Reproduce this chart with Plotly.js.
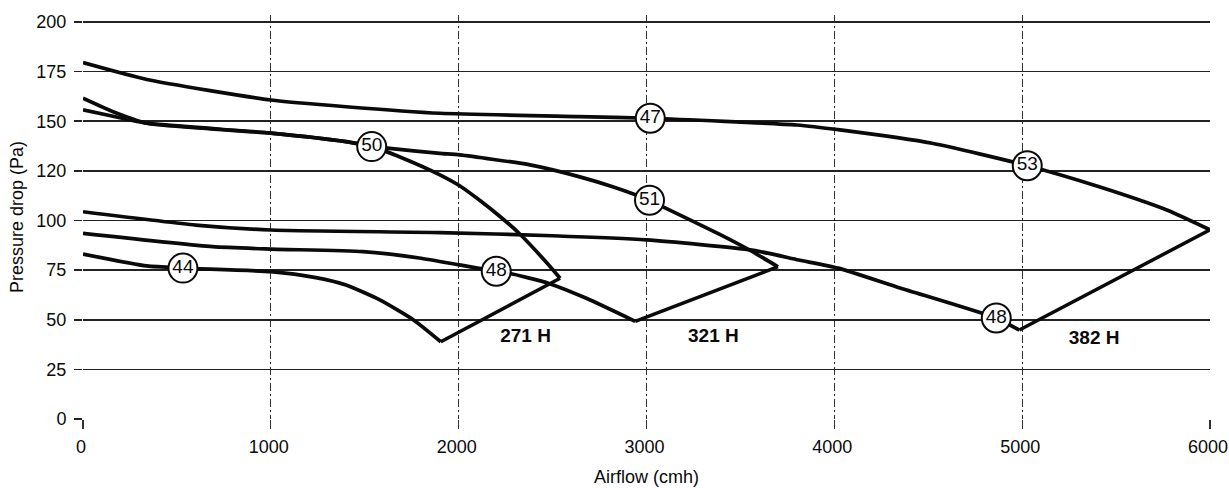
<!DOCTYPE html>
<html><head><meta charset="utf-8">
<script src="https://cdn.plot.ly/plotly-3.0.1.min.js"></script>
<style>html,body{margin:0;padding:0;background:#fff;} #chart{width:1229px;height:488px;}</style>
</head><body><div id="chart"></div>
<script>
// ---- 382 H filter ----
const upper382X = [0, 340, 1000, 1400, 1900, 2640, 3020, 3800, 4030, 4520, 5030, 5410, 5770, 6000];
const upper382Y = [179.5, 171, 160.7, 157.3, 154, 152.3, 151.5, 148.1, 145.6, 138.9, 127.6, 117, 105.3, 95.3];
const lower382X = [0, 600, 1000, 1900, 2500, 3000, 3560, 3810, 4020, 4350, 4860, 4985];
const lower382Y = [104.4, 97.7, 95.2, 93.9, 92.3, 90.2, 85.1, 80.1, 76, 66, 50.9, 44.8];
// ---- 321 H filter ----
const upper321X = [0, 160, 340, 1000, 1400, 1540, 1620, 1900, 2005, 2380, 2640, 2820, 3015, 3085, 3390, 3560, 3700];
const upper321Y = [155.7, 152.5, 149, 144, 139.7, 137.2, 136.4, 133.8, 133, 128, 122.1, 117, 110.2, 107, 93, 84.5, 76.7];
const lower321X = [0, 690, 1000, 1490, 1790, 2005, 2200, 2270, 2480, 2680, 2940];
const lower321Y = [93.5, 86.8, 85.6, 84.3, 81.1, 77.6, 74.4, 73.4, 68.3, 60.8, 49.2];
// ---- 271 H filter ----
const upper271X = [0, 160, 340, 1000, 1400, 1540, 1700, 1900, 2005, 2110, 2220, 2320, 2470, 2540];
const upper271Y = [161.6, 154.8, 149, 144, 139.7, 137.2, 131.5, 123, 117.5, 110.3, 102, 93.7, 78.6, 70.9];
const lower271X = [0, 340, 530, 1000, 1240, 1400, 1580, 1760, 1905];
const lower271Y = [83.1, 77.1, 76, 74.2, 71.2, 67.5, 60, 49.9, 38.9];

// circled curve labels
const labelText = ['47', '53', '50', '51', '44', '48', '48'];
const labelX = [3020, 5027, 1537, 3016, 532, 2200, 4862];
const labelY = [151.5, 127.6, 137.2, 110.2, 76, 74.4, 50.9];

// filter size labels
const sizeNames = ['271 H', '321 H', '382 H'];
const sizeX = [2356, 3356, 5383];
const sizeY = [41.3, 41.3, 40.3];

// axis ticks
const xTicks = [0, 1000, 2000, 3000, 4000, 5000, 6000];
const xTickText = ['0', '1000', '2000', '3000', '4000', '5000', '6000'];
const yTicks = [0, 25, 50, 75, 100, 125, 150, 175, 200];
const yTickText = ['0', '25', '50', '75', '100', '120', '150', '175', '200'];

const INK = '#0a0a0a';
const FONT = 'Liberation Sans, Arial, Helvetica, sans-serif';
const curveLine = {color: INK, width: 3.7, shape: 'spline', smoothing: 0.55};
const straightLine = {color: INK, width: 3.5, shape: 'linear'};

function curve(x, y) {
  return {type: 'scatter', mode: 'lines', x: x, y: y, line: curveLine, hoverinfo: 'skip'};
}
function connector(ux, uy, lx, ly) {
  return {type: 'scatter', mode: 'lines',
    x: [ux[ux.length - 1], lx[lx.length - 1]],
    y: [uy[uy.length - 1], ly[ly.length - 1]],
    line: straightLine, hoverinfo: 'skip'};
}

const traces = [
  curve(upper382X, upper382Y), curve(lower382X, lower382Y), connector(upper382X, upper382Y, lower382X, lower382Y),
  curve(upper321X, upper321Y), curve(lower321X, lower321Y), connector(upper321X, upper321Y, lower321X, lower321Y),
  curve(upper271X, upper271Y), curve(lower271X, lower271Y), connector(upper271X, upper271Y, lower271X, lower271Y),
  {type: 'scatter', mode: 'markers+text', x: labelX, y: labelY, text: labelText,
   textposition: 'middle center', cliponaxis: false,
   marker: {symbol: 'circle', size: 29, color: '#fff', line: {color: INK, width: 2}},
   textfont: {family: FONT, size: 19, color: INK}, hoverinfo: 'skip'},
  {type: 'scatter', mode: 'text', x: sizeX, y: sizeY, text: sizeNames.map(s => '<b>' + s + '</b>'),
   textposition: 'middle center', cliponaxis: false,
   textfont: {family: FONT, size: 19, color: INK}, hoverinfo: 'skip'}
];

const layout = {
  width: 1229, height: 488,
  margin: {l: 83, r: 19, t: 15, b: 69, pad: 0},
  paper_bgcolor: '#fff', plot_bgcolor: '#fff',
  showlegend: false,
  font: {family: FONT, color: INK, size: 18},
  xaxis: {
    range: [0, 6000], tickmode: 'array', tickvals: xTicks, ticktext: xTickText,
    showgrid: true, gridcolor: '#333', gridwidth: 1.3, griddash: '8px,3px,2px,3px',
    zeroline: false, showline: false,
    ticks: 'outside', ticklen: 9, tickcolor: '#333', tickwidth: 1.3,
    ticklabelstandoff: 2, ticklabelshift: -2,
    tickfont: {size: 18, color: INK},
    title: {text: 'Airflow (cmh)', standoff: 14, font: {size: 18, color: INK}},
    fixedrange: true
  },
  yaxis: {
    range: [0, 203.5], tickmode: 'array', tickvals: yTicks, ticktext: yTickText,
    showgrid: true, gridcolor: '#222', gridwidth: 1.6,
    zeroline: false, showline: false,
    ticks: 'outside', ticklen: 8, tickcolor: '#222', tickwidth: 1.6,
    ticklabelstandoff: 4,
    tickfont: {size: 18, color: INK},
    title: {text: 'Pressure drop (Pa)', standoff: 8, font: {size: 18, color: INK}},
    fixedrange: true
  }
};

Plotly.newPlot('chart', traces, layout, {staticPlot: true, displayModeBar: false});
</script>
</body></html>
